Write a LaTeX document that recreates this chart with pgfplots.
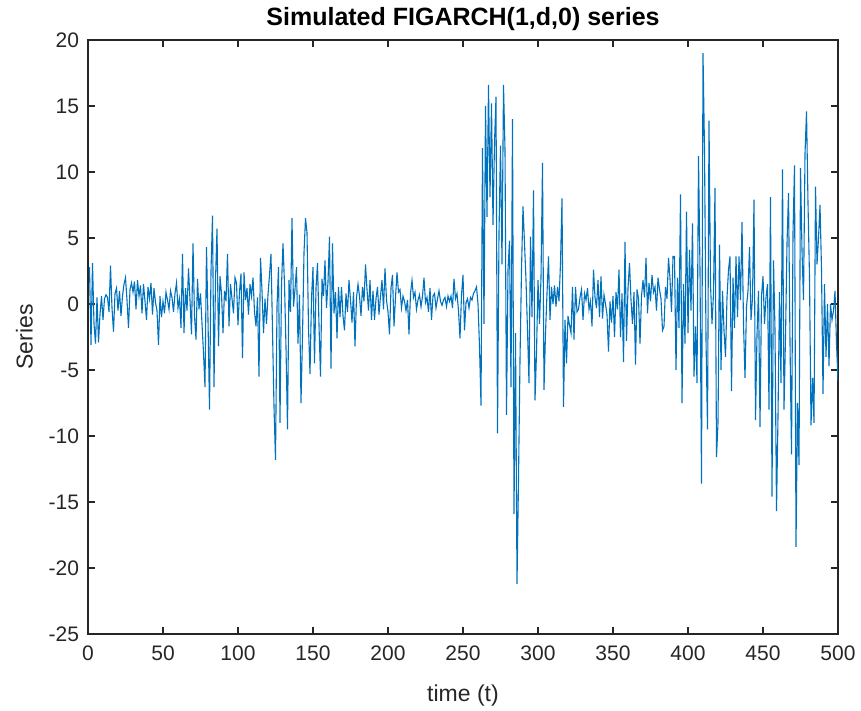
\documentclass[border=0pt]{standalone}
\usepackage{fontspec}
\setmainfont{Liberation Sans}
\usepackage{pgfplots}
\pgfplotsset{compat=1.18}
\definecolor{MatBlue}{HTML}{0072BD}
\definecolor{AxGray}{HTML}{262626}

\begin{document}
\begin{tikzpicture}
\begin{axis}[
  scale only axis,
  width=375pt,height=297pt,
  xmin=0,xmax=500,ymin=-25,ymax=20,
  xtick={0,50,...,500},ytick={-25,-20,...,20},
  tick align=inside,major tick length=3.5pt,
  axis line style={AxGray,line width=0.6pt},
  tick style={AxGray,line width=0.6pt},
  every tick label/.append style={font=\fontsize{10.5}{12}\selectfont,text=AxGray},
  /pgf/number format/assume math mode=true,
  xticklabel style={yshift=-2.5pt},
  yticklabel style={xshift=-1pt},
  title={\bfseries Simulated FIGARCH(1,d,0) series},
  title style={font=\fontsize{12.5}{14}\selectfont,yshift=-5pt},
  xlabel={time (t)},ylabel={Series},
  label style={font=\fontsize{11.5}{13}\selectfont,text=AxGray},
  xlabel style={yshift=-5pt},
  ylabel style={yshift=1pt},
]
\addplot[MatBlue,line width=0.55pt,mark=none] coordinates {
(1,2.8) (2,-3.1) (3,3.1) (4,-1.5) (5,-3.0) (6,0.5) (7,-2.9) (8,-0.8) (9,0.6) (10,-1.2)
(11,0.4) (12,0.7) (13,0.5) (14,-0.6) (15,2.9) (16,-0.3) (17,-2.1) (18,0.8) (19,1.2) (20,-0.5)
(21,1.0) (22,-0.9) (23,0.6) (24,1.5) (25,2.0) (26,0.3) (27,-1.8) (28,1.1) (29,1.6) (30,0.9)
(31,1.7) (32,-0.4) (33,1.8) (34,0.6) (35,1.4) (36,-0.7) (37,1.5) (38,0.2) (39,-1.2) (40,1.3)
(41,0.4) (42,1.6) (43,-0.8) (44,1.2) (45,0.1) (46,-0.5) (47,-3.1) (48,0.6) (49,-1.0) (50,0.2)
(51,-0.7) (52,0.9) (53,0.3) (54,-0.4) (55,1.0) (56,0.5) (57,-0.6) (58,0.8) (59,1.6) (60,-0.3)
(61,0.4) (62,-1.8) (63,3.8) (64,-2.2) (65,1.2) (66,-0.5) (67,2.7) (68,0.3) (69,-2.3) (70,4.6)
(71,-0.9) (72,-2.7) (73,1.9) (74,-0.4) (75,0.8) (76,-1.5) (77,-3.7) (78,-6.3) (79,4.3) (80,-1.2)
(81,-8.0) (82,2.5) (83,6.7) (84,-6.3) (85,1.8) (86,5.7) (87,-3.2) (88,2.1) (89,0.8) (90,-2.2)
(91,1.0) (92,0.2) (93,3.8) (94,-1.7) (95,1.5) (96,0.4) (97,-0.7) (98,2.0) (99,1.6) (100,-1.6)
(101,0.9) (102,2.3) (103,-4.1) (104,2.4) (105,0.3) (106,1.2) (107,-0.8) (108,1.5) (109,0.6) (110,2.0)
(111,-0.6) (112,-1.7) (113,0.5) (114,-5.5) (115,3.5) (116,1.0) (117,-2.2) (118,0.4) (119,-1.5) (120,0.7)
(121,2.2) (122,3.8) (123,-2.0) (124,-7.8) (125,-11.8) (126,-0.2) (127,2.8) (128,-9.0) (129,1.4) (130,4.6)
(131,1.5) (132,-3.3) (133,-9.5) (134,1.8) (135,-0.6) (136,6.5) (137,-0.2) (138,1.1) (139,2.8) (140,-3.0)
(141,0.7) (142,-7.5) (143,-2.4) (144,3.9) (145,6.5) (146,5.4) (147,-1.8) (148,-5.3) (149,0.4) (150,2.8)
(151,-4.5) (152,1.2) (153,3.1) (154,-1.6) (155,-5.5) (156,1.9) (157,0.6) (158,3.3) (159,-0.3) (160,1.7)
(161,5.1) (162,-4.9) (163,4.6) (164,-0.7) (165,0.9) (166,-2.6) (167,1.3) (168,-1.0) (169,1.3) (170,-0.9)
(171,-2.0) (172,0.8) (173,-0.6) (174,1.8) (175,0.3) (176,-1.4) (177,0.9) (178,-3.2) (179,0.5) (180,1.5)
(181,0.6) (182,-0.9) (183,1.3) (184,0.2) (185,3.0) (186,1.1) (187,-0.5) (188,1.8) (189,-1.2) (190,1.0)
(191,-1.2) (192,0.4) (193,1.3) (194,-0.8) (195,0.6) (196,1.8) (197,-0.4) (198,2.7) (199,0.3) (200,-0.6)
(201,-2.3) (202,1.2) (203,2.2) (204,-1.7) (205,0.5) (206,2.4) (207,0.9) (208,1.1) (209,-0.3) (210,0.6)
(211,0.2) (212,-0.5) (213,0.3) (214,-2.3) (215,0.8) (216,1.8) (217,0.5) (218,0.9) (219,-0.4) (220,0.3)
(221,0.7) (222,-0.2) (223,0.6) (224,2.0) (225,0.1) (226,0.5) (227,-0.6) (228,1.2) (229,-1.2) (230,0.6)
(231,0.8) (232,-0.3) (233,0.4) (234,1.0) (235,0.2) (236,-0.1) (237,0.3) (238,0.5) (239,-0.2) (240,0.6)
(241,0.2) (242,0.6) (243,-0.3) (244,1.9) (245,0.4) (246,0.8) (247,-0.5) (248,-2.6) (249,0.7) (250,2.2)
(251,-2.0) (252,0.1) (253,0.4) (254,-0.3) (255,0.5) (256,0.3) (257,0.8) (258,1.0) (259,1.3) (260,0.0)
(261,-3.2) (262,-7.7) (263,11.8) (264,-1.5) (265,15.0) (266,6.6) (267,16.6) (268,8.1) (269,15.2) (270,6.0)
(271,12.2) (272,15.7) (273,-9.8) (274,5.4) (275,12.0) (276,3.0) (277,16.6) (278,11.7) (279,-8.4) (280,2.6)
(281,4.8) (282,-6.3) (283,14.0) (284,-15.9) (285,-2.2) (286,-21.2) (287,-13.3) (288,-4.2) (289,2.6) (290,7.4)
(291,4.6) (292,1.8) (293,-2.0) (294,-6.0) (295,5.1) (296,-1.0) (297,8.6) (298,-7.3) (299,-3.7) (300,1.8)
(301,-1.5) (302,2.0) (303,10.7) (304,-6.5) (305,-2.2) (306,0.8) (307,3.6) (308,-1.2) (309,1.3) (310,0.0)
(311,1.4) (312,-0.2) (313,1.3) (314,0.2) (315,3.1) (316,8.0) (317,-7.8) (318,-1.2) (319,-4.5) (320,-0.9)
(321,-1.6) (322,-2.2) (323,1.3) (324,-2.7) (325,1.3) (326,-0.6) (327,-0.4) (328,0.5) (329,1.1) (330,-1.2)
(331,0.8) (332,0.3) (333,1.2) (334,-0.4) (335,0.2) (336,-1.7) (337,2.6) (338,0.5) (339,-0.3) (340,1.8)
(341,-1.0) (342,2.1) (343,-1.1) (344,0.7) (345,0.0) (346,-0.8) (347,-3.6) (348,0.2) (349,-1.4) (350,0.6)
(351,-2.5) (352,0.9) (353,-0.4) (354,2.6) (355,-2.5) (356,0.8) (357,-4.4) (358,4.7) (359,-2.8) (360,1.2)
(361,3.1) (362,0.3) (363,-1.5) (364,0.9) (365,-4.6) (366,1.1) (367,0.4) (368,-3.0) (369,0.6) (370,1.8)
(371,0.5) (372,3.5) (373,-0.7) (374,1.6) (375,0.2) (376,2.2) (377,0.9) (378,1.3) (379,-0.5) (380,2.0)
(381,1.1) (382,0.4) (383,-2.0) (384,-1.7) (385,1.3) (386,0.4) (387,3.5) (388,1.9) (389,-0.6) (390,3.6)
(391,3.6) (392,-5.0) (393,2.0) (394,-1.8) (395,8.3) (396,-7.5) (397,1.5) (398,-3.0) (399,7.0) (400,-2.2)
(401,4.1) (402,-0.5) (403,6.1) (404,-5.5) (405,-1.7) (406,-6.0) (407,11.2) (408,2.5) (409,-13.6) (410,19.0)
(411,11.7) (412,-2.7) (413,-9.5) (414,13.9) (415,1.5) (416,-1.5) (417,0.8) (418,8.8) (419,-11.6) (420,-9.0)
(421,4.5) (422,-5.0) (423,1.0) (424,-2.0) (425,-4.0) (426,0.5) (427,2.6) (428,3.6) (429,-6.6) (430,2.0)
(431,-1.8) (432,3.6) (433,-1.0) (434,3.6) (435,0.3) (436,6.2) (437,-1.5) (438,-5.6) (439,-0.2) (440,1.0)
(441,4.3) (442,-1.2) (443,0.5) (444,7.9) (445,-8.8) (446,-2.3) (447,1.0) (448,-9.3) (449,0.6) (450,2.1)
(451,-1.5) (452,0.5) (453,1.5) (454,-8.0) (455,8.1) (456,-14.6) (457,3.3) (458,-2.0) (459,-15.7) (460,-8.5)
(461,0.9) (462,-6.0) (463,10.2) (464,-8.0) (465,-2.5) (466,4.6) (467,8.4) (468,-3.0) (469,-11.4) (470,5.4)
(471,10.5) (472,-18.4) (473,-7.5) (474,-12.2) (475,10.3) (476,4.0) (477,0.3) (478,11.4) (479,14.6) (480,7.6)
(481,2.0) (482,-9.2) (483,-5.6) (484,-9.0) (485,8.9) (486,3.0) (487,5.0) (488,7.5) (489,2.6) (490,-6.8)
(491,1.5) (492,-4.0) (493,0.0) (494,-4.7) (495,0.0) (496,-1.2) (497,-0.5) (498,1.0) (499,-3.0) (500,-5.8)
};
\end{axis}
\pgfresetboundingbox
\path (0,0) ++(-44pt,-38.5pt) rectangle (375pt+11.5pt,297pt+20pt);
\end{tikzpicture}
\end{document}
